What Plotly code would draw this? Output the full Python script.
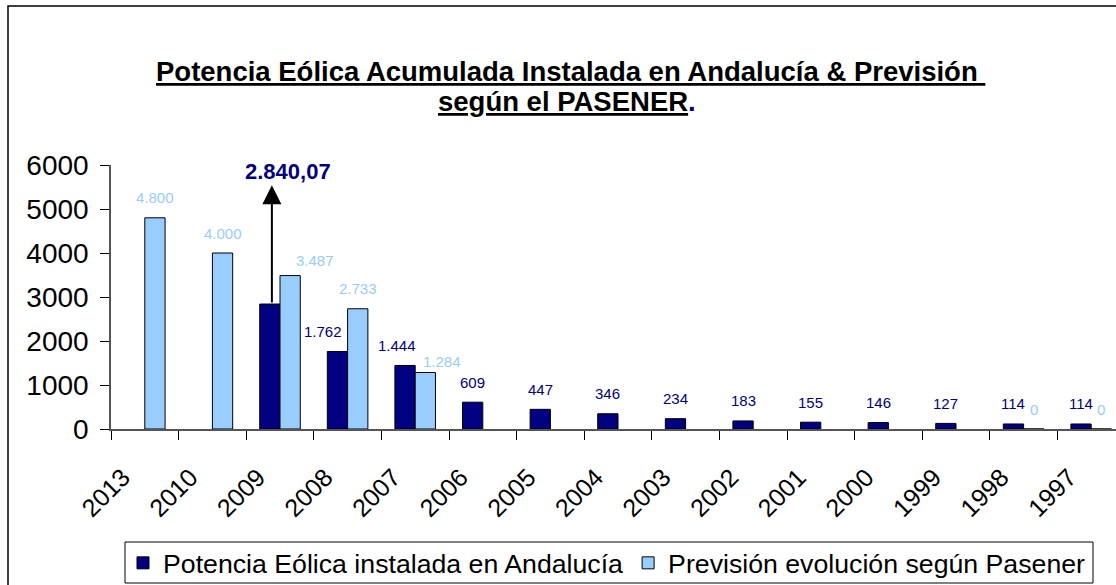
import plotly.graph_objects as go

# ---------------- data ----------------
years = ["2013", "2010", "2009", "2008", "2007", "2006", "2005", "2004",
         "2003", "2002", "2001", "2000", "1999", "1998", "1997"]
installed = [None, None, 2840.07, 1762, 1444, 609, 447, 346, 234, 183,
             155, 146, 127, 114, 114]
forecast = [4800, 4000, 3487, 2733, 1284, None, None, None, None, None,
            None, None, None, 0, 0]
y_ticks = [0, 1000, 2000, 3000, 4000, 5000, 6000]
highlight_index = 2          # year whose value is called out with an arrow

series_names = ["Potencia Eólica instalada en Andalucía",
                "Previsión evolución según Pasener"]
title_lines = ["Potencia Eólica Acumulada Instalada en Andalucía &amp; Previsión ",
               "según el PASENER"]

# ---------------- style / layout ----------------
NAVY = "#000080"
LIGHT = "#99CCFF"
FONT = "Liberation Sans, Arial, sans-serif"
W, H = 1116, 585
ML, MR, MT, MB = 111, 0, 165, 156
CAT_PX = 67.6
plot_w = W - ML - MR
plot_h = H - MT - MB
x_max = -0.5 + plot_w / CAT_PX
BAR_OFF = 0.15               # half of a bar width in category units

# label nudges (px) for labels that were moved to avoid overlaps
dark_nudge = {3: (-14, 0), 4: (-8, 0)}
light_nudge = {2: (25, -5), 4: (17, -9)}


def px_x(px):
    return (px - ML) / plot_w


def px_y(py):
    return (H - MB - py) / plot_h


def fmt_es(v, decimals=0):
    s = f"{v:,.{decimals}f}"
    return s.replace(",", "X").replace(".", ",").replace("X", ".")


fig = go.Figure()
fig.add_trace(go.Bar(x=years, y=installed, name=series_names[0],
                     marker=dict(color=NAVY, line=dict(color="black", width=1)),
                     hoverinfo="skip"))
fig.add_trace(go.Bar(x=years, y=forecast, name=series_names[1],
                     marker=dict(color=LIGHT, line=dict(color="black", width=1)),
                     hoverinfo="skip"))

annotations = []
for i, v in enumerate(installed):
    if v is None or i == highlight_index:
        continue
    dx, dy = dark_nudge.get(i, (0, 0))
    annotations.append(dict(x=i - BAR_OFF, y=v, xref="x", yref="y",
                            text=fmt_es(v), showarrow=False,
                            xshift=dx, yshift=20 + dy,
                            font=dict(family=FONT, size=15, color=NAVY)))
for i, v in enumerate(forecast):
    if v is None:
        continue
    dx, dy = light_nudge.get(i, (0, 0))
    annotations.append(dict(x=i + BAR_OFF, y=v, xref="x", yref="y",
                            text=fmt_es(v), showarrow=False,
                            xshift=dx, yshift=20 + dy,
                            font=dict(family=FONT, size=15, color=LIGHT)))

# highlighted value: arrow from bar top upwards + bold label
hv = installed[highlight_index]
ax_x = highlight_index - 0.12
annotations.append(dict(x=ax_x, y=5540, ax=ax_x, ay=hv,
                        xref="x", yref="y", axref="x", ayref="y",
                        text="", showarrow=True, arrowhead=2, arrowsize=1.9,
                        arrowwidth=2, arrowcolor="black", standoff=0,
                        startstandoff=0))
annotations.append(dict(x=highlight_index + 0.12, y=5860, xref="x", yref="y",
                        text="<b>" + fmt_es(hv, 2) + "</b>", showarrow=False,
                        font=dict(family=FONT, size=22, color=NAVY)))

# title (two lines)
annotations.append(dict(
    x=px_x(570), y=px_y(71), xref="paper", yref="paper",
    xanchor="center", yanchor="middle", showarrow=False,
    text="<b><u>" + title_lines[0] + "</u></b>",
    font=dict(family=FONT, size=27.5, color="black")))
annotations.append(dict(
    x=px_x(567), y=px_y(101), xref="paper", yref="paper",
    xanchor="center", yanchor="middle", showarrow=False,
    text="<b><u>" + title_lines[1] + "</u></b><b><span style='color:#000080'>.</span></b>",
    font=dict(family=FONT, size=27.5, color="black")))

fig.update_layout(
    width=W, height=H,
    margin=dict(l=ML, r=MR, t=MT, b=MB, autoexpand=False),
    paper_bgcolor="white", plot_bgcolor="white",
    barmode="group", bargap=0.4, bargroupgap=0,
    showlegend=True,
    legend=dict(orientation="h", x=px_x(123), y=px_y(539),
                xanchor="left", yanchor="top",
                font=dict(family=FONT, size=26.7, color="black"),
                borderwidth=0, bgcolor="rgba(0,0,0,0)",
                itemwidth=30, traceorder="normal"),
    annotations=annotations,
    shapes=[
        # outer chart frame
        dict(type="rect", xref="paper", yref="paper",
             x0=px_x(8), x1=px_x(W + 20), y0=px_y(6), y1=px_y(H + 40),
             line=dict(color="black", width=1.5), layer="below"),
        # legend box
        dict(type="rect", xref="paper", yref="paper",
             x0=px_x(125), x1=px_x(1093), y0=px_y(542), y1=px_y(583),
             line=dict(color="black", width=1), fillcolor="white",
             layer="below"),
    ],
)

fig.update_xaxes(type="category", range=[-0.5, x_max], showgrid=False,
                 showline=True, linecolor="#555555", linewidth=1.5,
                 ticks="outside", tickson="boundaries", ticklen=9,
                 tickcolor="black", tickangle=-45,
                 ticklabelstandoff=22, ticklabelshift=-22,
                 tickfont=dict(family=FONT, size=25, color="black"),
                 automargin=False, fixedrange=True)
fig.update_yaxes(range=[0, 6000], tickvals=y_ticks,
                 ticktext=[str(t) for t in y_ticks], showgrid=False,
                 zeroline=False, showline=True, linecolor="#555555",
                 linewidth=1.5, ticks="outside", ticklen=9, tickcolor="black",
                 ticklabelstandoff=6,
                 tickfont=dict(family=FONT, size=28, color="black"),
                 automargin=False, fixedrange=True)

fig.write_html("out.html", config={"displayModeBar": False},
               post_script="document.body.style.margin='0';"
                           "document.body.style.overflow='hidden';")
